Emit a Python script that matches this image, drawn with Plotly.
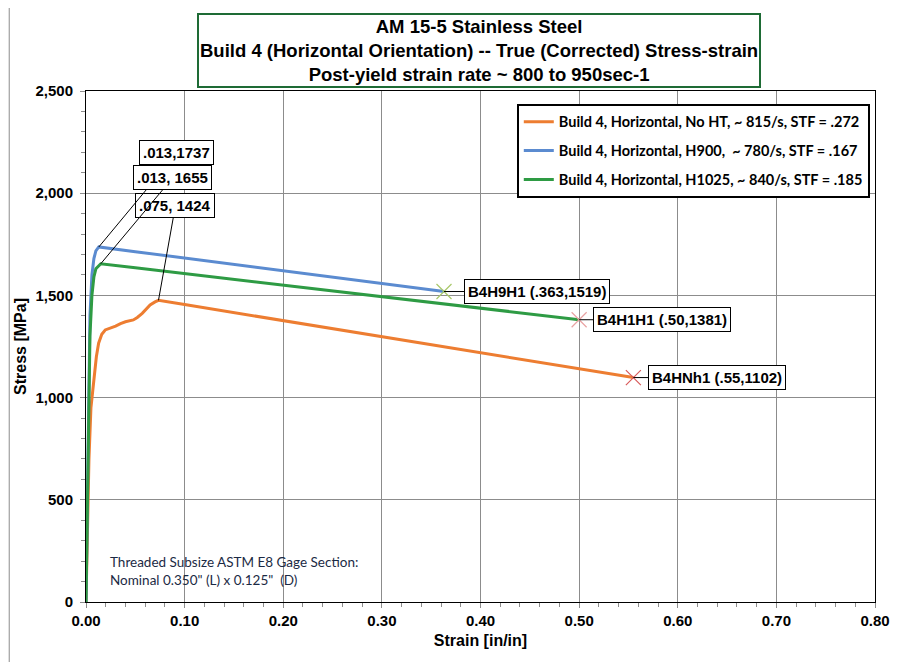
import plotly.graph_objects as go

# --- data ---
strain_noht = [0.0, 0.001, 0.002, 0.003, 0.005, 0.0078, 0.0105, 0.0128, 0.016, 0.0195,
               0.025, 0.030, 0.035, 0.040, 0.048, 0.052, 0.057, 0.061, 0.065, 0.070,
               0.0735, 0.10, 0.20, 0.30, 0.40, 0.50, 0.555]
stress_noht = [0, 250, 500, 700, 950, 1086, 1200, 1266, 1310, 1331,
               1340, 1350, 1362, 1371, 1380, 1392, 1412, 1432, 1453, 1468,
               1476, 1455, 1377, 1298, 1220, 1141, 1098]

strain_h900 = [0.0, 0.001, 0.002, 0.003, 0.004, 0.006, 0.008, 0.010, 0.013,
               0.05, 0.10, 0.15, 0.20, 0.25, 0.30, 0.363]
stress_h900 = [0, 350, 800, 1150, 1400, 1600, 1680, 1718, 1737,
               1714, 1683, 1652, 1620, 1589, 1558, 1519]

strain_h1025 = [0.0, 0.001, 0.002, 0.003, 0.004, 0.006, 0.008, 0.010, 0.015,
                0.05, 0.10, 0.20, 0.30, 0.40, 0.50]
stress_h1025 = [0, 300, 700, 1050, 1300, 1500, 1590, 1630, 1655,
                1635, 1607, 1550, 1494, 1437, 1381]

names = [
    "Build 4, Horizontal, No HT, ~ 815/s, STF = .272",
    "Build 4, Horizontal, H900,  ~ 780/s, STF = .167",
    "Build 4, Horizontal, H1025, ~ 840/s, STF = .185",
]
colors = ["#ED7D31", "#5B8BD0", "#2E9B44"]
end_marker_colors = ["#D85A5A", "#A9C86A", "#E9A3A3"]

peak_labels = [".075, 1424", ".013,1737", ".013, 1655"]
peak_index = [20, 8, 8]
peak_offsets = [(17, -95), (78, -94), (72, -86)]

end_labels = ["B4HNh1 (.55,1102)", "B4H9H1 (.363,1519)", "B4H1H1 (.50,1381)"]
end_offsets = [(84, 0), (93, 0), (83, 0)]

series = [(strain_noht, stress_noht), (strain_h900, stress_h900), (strain_h1025, stress_h1025)]

fig = go.Figure()
for i, (sx, sy) in enumerate(series):
    fig.add_trace(go.Scatter(
        x=sx, y=sy, mode="lines", name=names[i], legendgroup=str(i),
        line=dict(color=colors[i], width=3),
    ))
for i, (sx, sy) in enumerate(series):
    fig.add_trace(go.Scatter(
        x=[sx[-1]], y=[sy[-1]], mode="markers", showlegend=False,
        marker=dict(symbol="x-thin", size=15, line=dict(color=end_marker_colors[i], width=1.2)),
    ))

box_font = dict(family="Liberation Sans, Arial", size=15, color="black", weight="bold")
for i, (sx, sy) in enumerate(series):
    k = peak_index[i]
    fig.add_annotation(
        x=sx[k], y=sy[k], text=peak_labels[i], showarrow=True, arrowhead=0,
        arrowwidth=1, arrowcolor="black", ax=peak_offsets[i][0], ay=peak_offsets[i][1],
        font=box_font, bgcolor="white", bordercolor="black", borderwidth=1, borderpad=3,
    )
    fig.add_annotation(
        x=sx[-1], y=sy[-1], text=end_labels[i], showarrow=True, arrowhead=0,
        arrowwidth=1, arrowcolor="black", ax=end_offsets[i][0], ay=end_offsets[i][1],
        font=box_font, bgcolor="white", bordercolor="black", borderwidth=1, borderpad=3,
    )

# title box
fig.add_annotation(
    xref="paper", yref="paper", x=0.498, y=1.080, xanchor="center", yanchor="middle",
    showarrow=False,
    text="AM 15-5 Stainless Steel<br>Build 4 (Horizontal Orientation) -- True (Corrected) Stress-strain"
         "<br>Post-yield strain rate ~ 800 to 950sec-1",
    font=dict(family="Liberation Sans Narrow, Arial Narrow, Liberation Sans", size=18.5,
              color="black", weight="bold"),
    bgcolor="white", bordercolor="#1E6B35", borderwidth=2, borderpad=1,
)

# specimen note
fig.add_annotation(
    xref="paper", yref="paper", x=0.0278, y=0.097, xanchor="left", yanchor="top",
    align="left", showarrow=False,
    text="Threaded Subsize ASTM E8 Gage Section:<br>Nominal 0.350\" (L) x 0.125\"  (D)",
    font=dict(family="Lato, Noto Sans", size=13.5, color="#1B2A44"),
)

# outer chart border (top and left visible)
fig.add_shape(type="line", xref="paper", yref="paper", x0=-0.0973, x1=1.06, y0=1.1644, y1=1.1644,
              line=dict(color="#8C8C8C", width=1))
fig.add_shape(type="line", xref="paper", yref="paper", x0=-0.0973, x1=-0.0973, y0=-0.13, y1=1.1644,
              line=dict(color="#8C8C8C", width=1))

axis_font = dict(family="Liberation Sans, Arial", size=15, color="black", weight="bold")
title_font = dict(family="Liberation Sans, Arial", size=16, color="black", weight="bold")
fig.update_xaxes(
    range=[0, 0.8], dtick=0.1, tickformat=".2f", showgrid=True, gridcolor="#8C8C8C", gridwidth=1,
    showline=True, linecolor="black", linewidth=1, mirror=True, ticks="outside", ticklen=5,
    tickcolor="#8C8C8C", tickfont=axis_font, zeroline=False,
    minor=dict(dtick=0.02, ticks="outside", ticklen=4, tickcolor="#8C8C8C", showgrid=False),
    title=dict(text="Strain [in/in]", font=title_font, standoff=6),
)
fig.update_yaxes(
    range=[0, 2500], dtick=500, tickformat=",", showgrid=True, gridcolor="#8C8C8C", gridwidth=1,
    showline=True, linecolor="black", linewidth=1, mirror=True, ticks="outside", ticklen=5,
    tickcolor="#8C8C8C", tickfont=axis_font, zeroline=False, ticklabelstandoff=4,
    minor=dict(dtick=100, ticks="outside", ticklen=4, tickcolor="#8C8C8C", showgrid=False),
    title=dict(text="Stress [MPa]", font=title_font, standoff=4),
)

# the page adds an 8px body margin, so the figure is sized to the visible area
fig.update_layout(
    width=905, height=654,
    margin=dict(l=76, r=38, t=83, b=60),
    plot_bgcolor="white", paper_bgcolor="white",
    showlegend=True,
    legend=dict(
        x=0.546, y=0.975, xanchor="left", yanchor="top",
        bgcolor="white", bordercolor="black", borderwidth=2,
        font=dict(family="Lato, Noto Sans", size=14.5, color="black", weight="bold"),
        itemwidth=30, tracegroupgap=7,
    ),
)

fig.write_html("out.html")
